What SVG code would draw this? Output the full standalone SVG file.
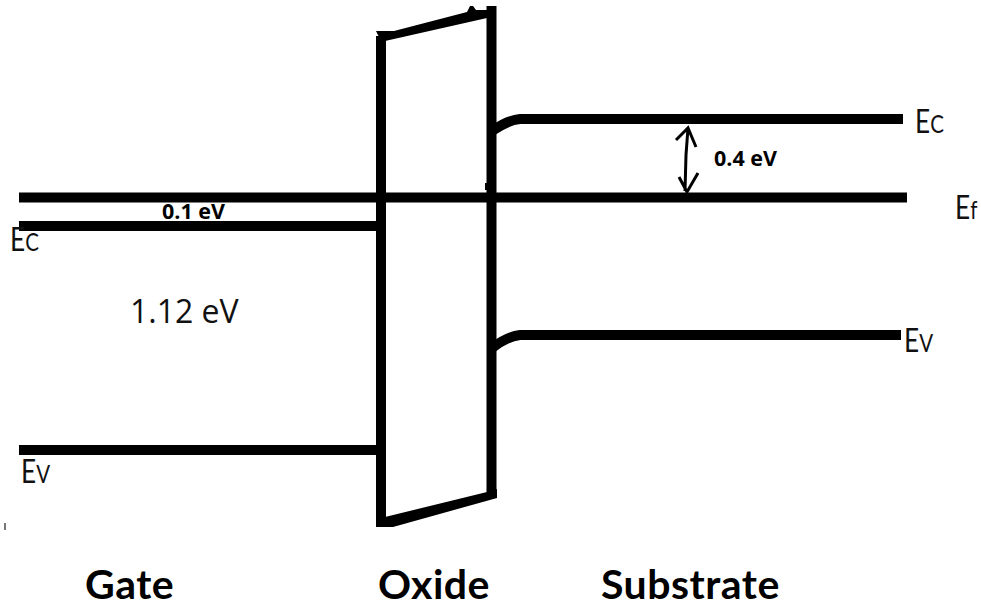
<svg xmlns="http://www.w3.org/2000/svg" width="981" height="608" viewBox="0 0 981 608">
<style>
.l{fill:none;stroke:#000;stroke-width:10}
text{font-family:"Open Sans","Noto Sans",sans-serif;fill:#111}
.b{font-weight:700;fill:#000}
.t{font-family:Lato,"Open Sans",sans-serif;font-size:41px;letter-spacing:.5px}
.s{font-size:21.500px}
.e{font-family:Lato,"Open Sans",sans-serif;font-size:32px}
.sub{font-size:25px}
</style>
<rect width="981" height="608" fill="#fff"/>
<g id="connectors">
<path class="l" d="M19 197.500H907"/>
<path class="l" d="M19 226H378"/>
<path class="l" d="M19 450H378"/>
<path class="l" d="M492 131Q508 120 520 119H903"/>
<path class="l" d="M492 348Q508 336 520 335H901"/>
<path d="M688 128L686 155L685 191M676 140L688 128L696 147M679 177L687 192L698 173" fill="none" stroke="#000" stroke-width="3"/>
</g>
<g id="oxide">
<path class="l" d="M381 527V36"/>
<path d="M376 31H394L467 12L470 6L473 6L476 10H487V18L385 41H381Z" fill="#000"/>
<path class="l" d="M491.500 6V498"/>
<path d="M377 527H393L497 498V489L487 492L385 517L381 518Z" fill="#000"/>
<path d="M485 183H492V190H485Z" fill="#000"/>
</g>
<g id="gate-labels">
<text class="e" transform="translate(10 251) scale(.82 1)">E<tspan class="sub">C</tspan></text>
<text class="e" transform="translate(21 483) scale(.82 1)">E<tspan class="sub">V</tspan></text>
<text x="130" y="323" font-size="32">1.12 eV</text>
<text class="b s" x="162" y="219">0.1 eV</text>
<text class="b t" x="85" y="599">Gate</text>
<rect x="4" y="523" width="2" height="7" fill="#777"/>
</g>
<g id="oxide-label"><text class="b t" x="378" y="599">Oxide</text></g>
<g id="substrate-labels">
<text class="e" transform="translate(915 133) scale(.82 1)">E<tspan class="sub">C</tspan></text>
<text class="e" transform="translate(955 219) scale(.82 1)">E<tspan class="sub">f</tspan></text>
<text class="e" transform="translate(904 352) scale(.82 1)">E<tspan class="sub">V</tspan></text>
<text class="b s" x="714" y="166">0.4 eV</text>
<text class="b t" x="601" y="599">Substrate</text>
</g>
</svg>
